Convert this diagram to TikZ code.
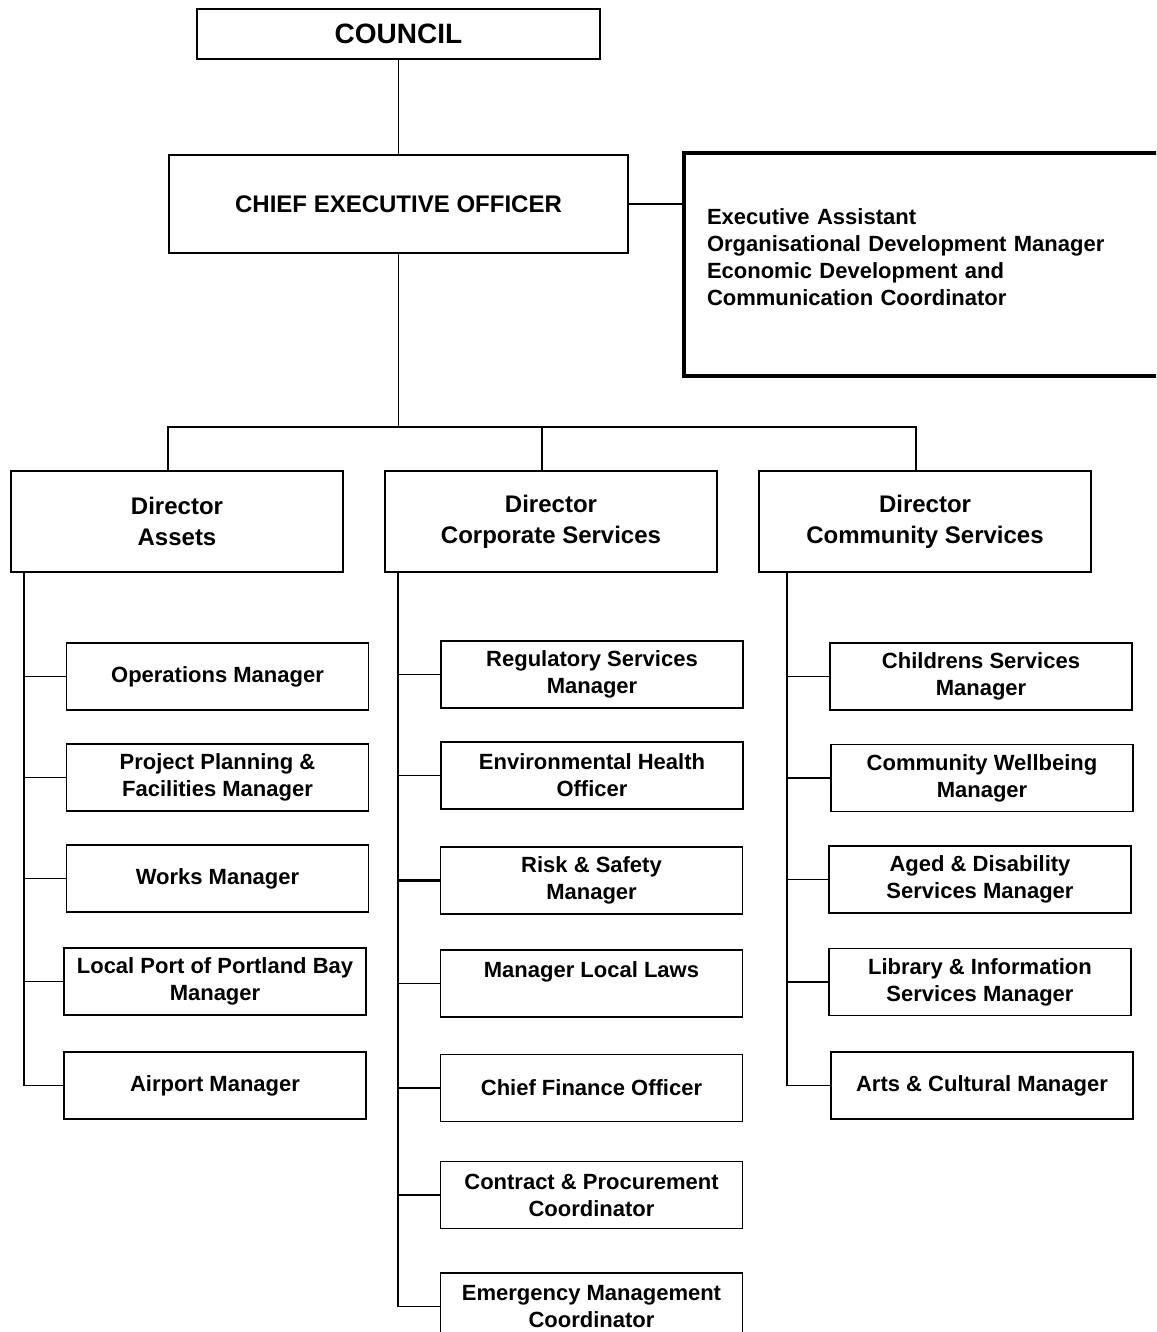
\documentclass[tikz,border=0pt]{standalone}
\usepackage{fontspec}
\setmainfont{Liberation Sans}
\tikzset{
  post/.style={draw, line width=0.9pt, minimum width=151pt, minimum height=33.5pt,
               inner sep=2pt, align=center, font=\bfseries\fontsize{11}{13.5}\selectfont},
  dirpost/.style={post, minimum width=166pt, minimum height=50.5pt,
                  font=\bfseries\fontsize{12}{15.5}\selectfont},
  toppost/.style={post, font=\bfseries\fontsize{12}{14}\selectfont},
  notebox/.style={draw, line width=1.6pt, text width=217.5pt, inner xsep=11.5pt,
                  minimum height=111.5pt, align=left, font=\bfseries\fontsize{11}{13.5}\selectfont},
  link/.style={line width=0.9pt},
}

\begin{document}
\begin{tikzpicture}[x=0.5pt, y=-0.5pt]
    \clip (0,0) rectangle (1156,1332);
    % top of the tree
    \node[toppost, minimum width=201.5pt, minimum height=25pt, font=\bfseries\fontsize{14}{16}\selectfont] (council) at (398.5,34) {COUNCIL};
    \node[toppost, minimum width=229.5pt, minimum height=49pt] (ceo) at (398.5,204) {CHIEF EXECUTIVE OFFICER};
    \node[notebox] (execbox) at (924.5,264.5) {Executive Assistant\\Organisational Development Manager\\Economic Development and\\Communication Coordinator\rule[-7pt]{0pt}{7pt}};
    \draw[link] (council) -- (ceo);
    \draw[link] (ceo.east) -- (ceo.east -| execbox.west);
    % directors
    \node[dirpost] (dirA) at (177,521.5) {Director\\Assets};
    \node[dirpost] (dirB) at (551,521.5) {Director\\Corporate Services};
    \node[dirpost] (dirC) at (925,521.5) {Director\\Community Services};
    \path (dirA.north west) ++(158,-43) coordinate (tA);
    \path (dirB.north west) ++(158,-43) coordinate (tB);
    \path (dirC.north west) ++(158,-43) coordinate (tC);
    \draw[link] (ceo.south) -- (ceo.south |- tA);
    \draw[link] (tA |- dirA.north) -- (tA) -- (tC) -- (tC |- dirC.north);
    \draw[link] (tB) -- (tB |- dirB.north);
    % assets
    \node[post] (a1) at (217.5,676.5) {Operations Manager};
    \node[post] (a2) at (217.5,777.5) {Project Planning \&\\Facilities Manager};
    \node[post] (a3) at (217.5,878.5) {Works Manager};
    \node[post] (a4) at (215,981.5) {Local Port of Portland Bay\\Manager};
    \node[post] (a5) at (215,1085.5) {Airport Manager};
    \path (dirA.south west) ++(14,0) coordinate (sA);
    \foreach \n in {a1,a2,a3,a4}
      \draw[link] (sA |- \n.west) -- (\n.west);
    \draw[link] (sA) |- (a5.west);
    % corporate services
    \node[post] (b1) at (592,674.5) {Regulatory Services\\Manager};
    \node[post] (b2) at (592,775.5) {Environmental Health\\Officer};
    \node[post] (b3) at (591.5,880.5) {Risk \& Safety\\Manager};
    \node[post] (b4) at (591.5,983.5) {Manager Local Laws\\\mbox{}};
    \node[post] (b5) at (591.5,1088) {Chief Finance Officer};
    \node[post] (b6) at (591.5,1195) {Contract \& Procurement\\Coordinator};
    \node[post] (b7) at (591.5,1306.5) {Emergency Management\\Coordinator};
    \path (dirB.south west) ++(14,0) coordinate (sB);
    \foreach \n in {b1,b2,b4,b5,b6}
      \draw[link] (sB |- \n.west) -- (\n.west);
    \draw[link, line width=1.5pt] (sB |- b3.west) -- (b3.west);
    \draw[link] (sB) |- (b7.west);
    % community services
    \node[post] (c1) at (981,676.5) {Childrens Services\\Manager};
    \node[post] (c2) at (982,778) {Community Wellbeing\\Manager};
    \node[post] (c3) at (980,879.5) {Aged \& Disability\\Services Manager};
    \node[post] (c4) at (980,982) {Library \& Information\\Services Manager};
    \node[post] (c5) at (982,1085.5) {Arts \& Cultural Manager};
    \path (dirC.south west) ++(29,0) coordinate (sC);
    \foreach \n in {c1,c2,c3,c4}
      \draw[link] (sC |- \n.west) -- (\n.west);
    \draw[link] (sC) |- (c5.west);
\end{tikzpicture}
\end{document}
